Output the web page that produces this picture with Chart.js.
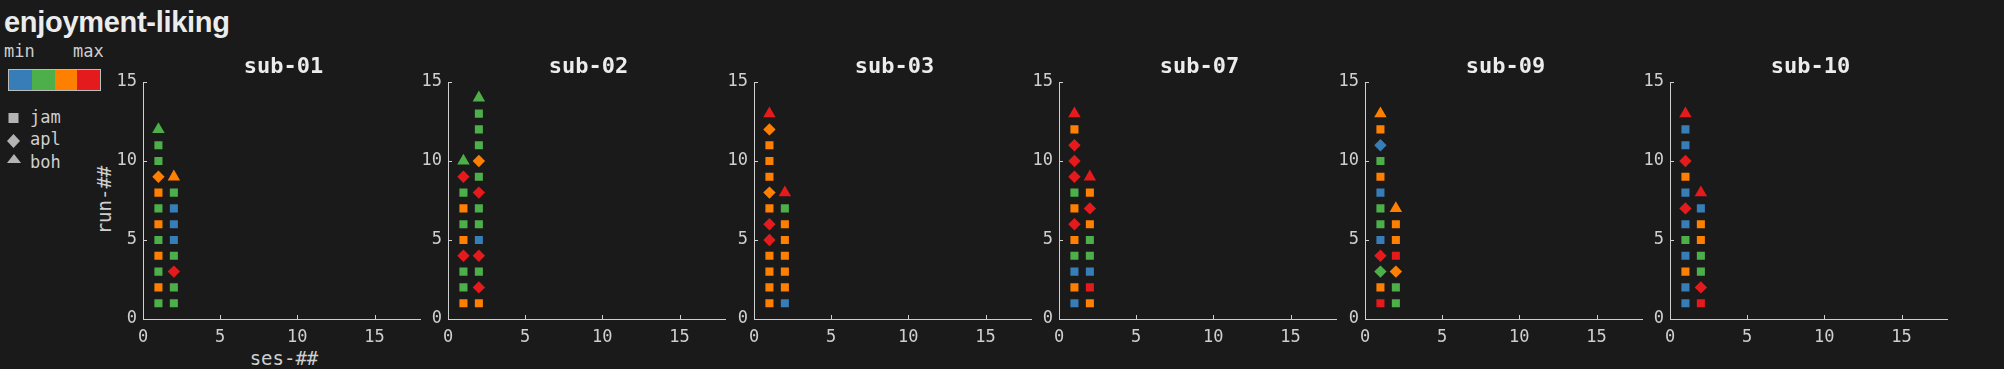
<!DOCTYPE html>
<html>
<head>
<meta charset="utf-8">
<script src="https://cdn.jsdelivr.net/npm/chart.js@4/dist/chart.umd.min.js"></script>
<style>
  html, body { margin: 0; padding: 0; background: #1a1a1a; }
  body { width: 2004px; height: 369px; position: relative; overflow: hidden; color: #cfcfcf; font-family: "DejaVu Sans Mono", monospace; }
  .abs { position: absolute; white-space: nowrap; }
  #title { left: 4px; top: 8px; font: bold 29px "Liberation Sans", Arial, sans-serif; line-height: 29px; color: #ececec; letter-spacing: -0.3px; }
  .small { font-size: 17px; line-height: 17px; }
  #cbar { left: 8px; top: 69px; width: 91px; height: 20px; border: 1px solid #bdbdbd; display: flex; }
  #cbar div { flex: 1; }
  .subtitle { font: bold 22px "DejaVu Sans Mono", monospace; line-height: 22px; color: #ececec; transform: translateX(-50%); }
  .axlabel { font-size: 19px; line-height: 19px; }
  canvas { position: absolute; top: 0; }
</style>
</head>
<body>
<div id="title" class="abs">enjoyment-liking</div>
<div class="abs small" style="left:4px;top:43px;">min</div>
<div class="abs small" style="left:73px;top:43px;">max</div>
<div id="cbar" class="abs"></div>
<svg class="abs" style="left:0;top:100px;" width="28" height="70">
  <rect x="8.5" y="13" width="10" height="10" fill="#b4b4b4"/>
  <polygon points="13.5,34 20,41 13.5,48 7,41" fill="#b4b4b4"/>
  <polygon points="14,54 21,63 7,63" fill="#b4b4b4"/>
</svg>
<div class="abs small" style="left:30px;top:109px;">jam</div>
<div class="abs small" style="left:30px;top:131px;">apl</div>
<div class="abs small" style="left:30px;top:154px;">boh</div>
<div class="abs axlabel" style="left:104px;top:200px;transform:translate(-50%,-50%) rotate(-90deg);">run-##</div>
<div class="abs axlabel" style="left:284px;top:349px;transform:translateX(-50%);">ses-##</div>

<script>
const subjects = ['sub-01', 'sub-02', 'sub-03', 'sub-07', 'sub-09', 'sub-10'];
const levelColors = ['#377eb8', '#4daf4a', '#ff7f00', '#e41a1c']; // min .. max
const xTicks = [0, 5, 10, 15];
const yTicks = [0, 5, 10, 15];

// per subject: [ses-1 runs, ses-2 runs], level index 0..3 for run 1..n
const levels = [
  [[1,2,1,2,1,2,1,2,2,1,1,1], [1,1,3,1,0,0,0,1,2]],
  [[2,1,1,3,2,1,2,1,3,1], [2,3,1,3,0,1,1,3,1,2,1,1,1,1]],
  [[2,2,2,2,3,3,2,2,2,2,2,2,3], [0,2,2,2,2,2,1,3]],
  [[0,2,0,1,2,3,2,1,3,3,3,2,3], [2,3,0,1,1,2,3,2,3]],
  [[3,2,1,3,0,1,1,0,2,1,0,2,2], [1,1,2,3,2,2,2]],
  [[0,0,2,0,1,0,3,0,2,3,0,0,3], [3,3,1,1,2,2,0,3]]
];
// task per run: j = jam, a = apl, b = boh
const tasks = [
  ['jjjjjjjjajjb', 'jjajjjjjb'],
  ['jjjajjjjab', 'jajajjjajajjjb'],
  ['jjjjaajajjjab', 'jjjjjjjb'],
  ['jjjjjajjaaajb', 'jjjjjjajb'],
  ['jjaajjjjjjajb', 'jjajjjb'],
  ['jjjjjjajjajjb', 'jajjjjjb']
];

const shapeOf = { j: 'rect', a: 'rectRot', b: 'triangle' };
const radiusOf = { j: 5.7, a: 6.2, b: 7.2 };
const axisColor = '#cfcfcf';

document.getElementById('cbar').innerHTML = levelColors.map(c => `<div style="background:${c}"></div>`).join('');

Chart.defaults.color = axisColor;
Chart.defaults.font.family = '"DejaVu Sans Mono", monospace';
Chart.defaults.font.size = 17;

const innerTicks = {
  id: 'innerTicks',
  afterDraw(chart) {
    const { ctx, chartArea: a, scales: { x, y } } = chart;
    ctx.save();
    ctx.strokeStyle = axisColor;
    ctx.lineWidth = 1;
    ctx.beginPath();
    x.ticks.forEach(t => {
      const px = Math.round(x.getPixelForValue(t.value)) + 0.5;
      ctx.moveTo(px, a.bottom); ctx.lineTo(px, a.bottom - 4);
    });
    y.ticks.forEach(t => {
      const py = Math.round(y.getPixelForValue(t.value)) + 0.5;
      ctx.moveTo(a.left, py); ctx.lineTo(a.left + 4, py);
    });
    ctx.stroke();
    ctx.restore();
  }
};

const LEFT = 40, PLOT_W = 281, RIGHT = 4, TOP = 82, BOTTOM = 50, H = 369;

subjects.forEach((name, k) => {
  const axisX = 143 + 305.4 * k;
  const cv = document.createElement('canvas');
  cv.width = LEFT + PLOT_W + RIGHT;
  cv.height = H;
  cv.style.left = Math.round(axisX - LEFT) + 'px';
  document.body.appendChild(cv);

  const t = document.createElement('div');
  t.className = 'abs subtitle';
  t.style.left = (Math.round(axisX) + PLOT_W / 2) + 'px';
  t.style.top = '55px';
  t.textContent = name;
  document.body.appendChild(t);

  const pts = [], bg = [], styles = [], radii = [];
  levels[k].forEach((runs, s) => {
    runs.forEach((lv, r) => {
      const task = tasks[k][s][r];
      pts.push({ x: s + 1, y: r + 1 });
      bg.push(levelColors[lv]);
      styles.push(shapeOf[task]);
      radii.push(radiusOf[task]);
    });
  });

  new Chart(cv, {
    type: 'scatter',
    data: {
      datasets: [{
        data: pts,
        backgroundColor: bg,
        pointStyle: styles,
        pointRadius: radii,
        borderWidth: 0
      }]
    },
    options: {
      responsive: false,
      animation: false,
      layout: { padding: { top: TOP, right: RIGHT, left: 0, bottom: 0 } },
      plugins: { legend: { display: false }, tooltip: { enabled: false } },
      scales: {
        x: {
          type: 'linear', min: 0, max: 18,
          grid: { display: false, drawTicks: false },
          border: { color: axisColor, width: 1 },
          ticks: { padding: 8, color: axisColor, maxRotation: 0 },
          afterBuildTicks: sc => { sc.ticks = xTicks.map(v => ({ value: v })); },
          afterFit: sc => { sc.height = BOTTOM; }
        },
        y: {
          type: 'linear', min: 0, max: 15,
          grid: { display: false, drawTicks: false },
          border: { color: axisColor, width: 1 },
          ticks: { padding: 6, color: axisColor },
          afterBuildTicks: sc => { sc.ticks = yTicks.map(v => ({ value: v })); },
          afterFit: sc => { sc.width = LEFT; }
        }
      }
    },
    plugins: [innerTicks]
  });
});
</script>
</body>
</html>
